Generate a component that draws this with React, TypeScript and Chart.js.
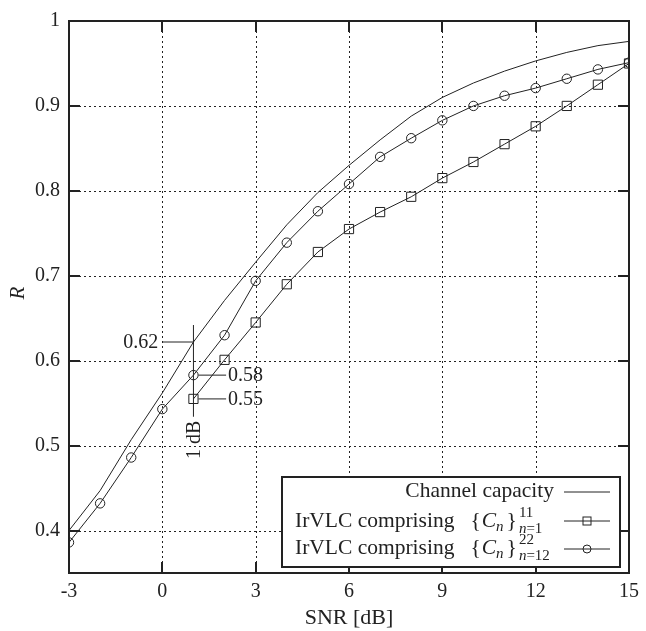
import React, { useEffect, useRef } from 'react';
import Chart from 'chart.js/auto';

// ---- data ----
const SNR = [-3, -2, -1, 0, 1, 2, 3, 4, 5, 6, 7, 8, 9, 10, 11, 12, 13, 14, 15];
const CAPACITY = [0.400, 0.447, 0.507, 0.562, 0.622, 0.671, 0.716, 0.760, 0.798, 0.830, 0.860, 0.888, 0.910, 0.927, 0.941, 0.953, 0.963, 0.971, 0.976];
const SNR_11 = [1, 2, 3, 4, 5, 6, 7, 8, 9, 10, 11, 12, 13, 14, 15];
const IRVLC_11 = [0.555, 0.601, 0.645, 0.690, 0.728, 0.755, 0.775, 0.793, 0.815, 0.834, 0.855, 0.876, 0.900, 0.925, 0.950];
const IRVLC_22 = [0.386, 0.432, 0.486, 0.543, 0.583, 0.630, 0.694, 0.739, 0.776, 0.808, 0.840, 0.862, 0.883, 0.900, 0.912, 0.921, 0.932, 0.943, 0.951];
const X_TICKS = [-3, 0, 3, 6, 9, 12, 15];
const Y_TICKS = [0.4, 0.5, 0.6, 0.7, 0.8, 0.9, 1];
const X_TITLE = 'SNR [dB]';
const Y_TITLE = 'R';
const LEGEND_LABELS = ['Channel capacity', 'IrVLC comprising'];
const SET_SIZES = ['11', '22'];
const SET_RANGES = ['n=1', 'n=12'];
// annotation at SNR = 1 dB
const ANNOT_SNR = 1;
const ANNOT_LABELS = ['0.62', '0.58', '0.55'];
const ANNOT_VALUES = [0.622, 0.583, 0.555];
const ANNOT_VSPAN = [0.642, 0.534];
const ANNOT_FROM_SNR = 0;
const ANNOT_TO_SNR = 2.05;
const ANNOT_TEXT = '1 dB';

const FONT = "'Liberation Serif', 'Times New Roman', serif";
const INK = '#222';

function line(ctx: CanvasRenderingContext2D, x1: number, y1: number, x2: number, y2: number) {
  ctx.beginPath();
  ctx.moveTo(x1, y1);
  ctx.lineTo(x2, y2);
  ctx.stroke();
}

const deco = {
  id: 'deco',
  beforeDatasetsDraw(chart: any) {
    const { ctx, chartArea: a, scales } = chart;
    const x = scales.x, y = scales.y;
    ctx.save();
    ctx.strokeStyle = INK;
    ctx.lineWidth = 1;
    ctx.setLineDash([2, 3]);
    X_TICKS.forEach((v) => {
      if (v <= x.min || v >= x.max) return;
      const px = Math.round(x.getPixelForValue(v)) + 0.5;
      line(ctx, px, a.top, px, a.bottom);
    });
    Y_TICKS.forEach((v) => {
      if (v <= y.min || v >= y.max) return;
      const py = Math.round(y.getPixelForValue(v)) + 0.5;
      line(ctx, a.left, py, a.right, py);
    });
    ctx.restore();
  },
  afterDraw(chart: any) {
    const { ctx, chartArea: a, scales } = chart;
    const x = scales.x, y = scales.y;
    ctx.save();
    ctx.strokeStyle = INK;
    ctx.fillStyle = INK;

    // frame + inward ticks
    ctx.lineWidth = 2;
    ctx.strokeRect(a.left, a.top, a.right - a.left, a.bottom - a.top);
    const TL = 11;
    X_TICKS.forEach((v) => {
      if (v <= x.min || v >= x.max) return;
      const px = Math.round(x.getPixelForValue(v));
      line(ctx, px, a.bottom, px, a.bottom - TL);
      line(ctx, px, a.top, px, a.top + TL);
    });
    Y_TICKS.forEach((v) => {
      if (v <= y.min || v >= y.max) return;
      const py = Math.round(y.getPixelForValue(v));
      line(ctx, a.left, py, a.left + TL, py);
      line(ctx, a.right, py, a.right - TL, py);
    });

    // axis titles
    ctx.font = `22px ${FONT}`;
    ctx.textAlign = 'center';
    ctx.textBaseline = 'middle';
    ctx.fillText(X_TITLE, (a.left + a.right) / 2, a.bottom + 45);
    ctx.save();
    ctx.translate(18, (a.top + a.bottom) / 2 - 4);
    ctx.rotate(-Math.PI / 2);
    ctx.font = `italic 21px ${FONT}`;
    ctx.fillText(Y_TITLE, 0, 0);
    ctx.restore();

    // annotations
    ctx.lineWidth = 1;
    const ax = x.getPixelForValue(ANNOT_SNR);
    line(ctx, ax, y.getPixelForValue(ANNOT_VSPAN[0]), ax, y.getPixelForValue(ANNOT_VSPAN[1]));
    const y0 = y.getPixelForValue(ANNOT_VALUES[0]);
    line(ctx, x.getPixelForValue(ANNOT_FROM_SNR), y0, ax, y0);
    ctx.font = `20px ${FONT}`;
    ctx.textAlign = 'right';
    ctx.fillText(ANNOT_LABELS[0], x.getPixelForValue(ANNOT_FROM_SNR) - 4, y0 + 1);
    ctx.textAlign = 'left';
    const xe = x.getPixelForValue(ANNOT_TO_SNR);
    [1, 2].forEach((i) => {
      const yy = y.getPixelForValue(ANNOT_VALUES[i]);
      line(ctx, ax + 5, yy, xe, yy);
      ctx.fillText(ANNOT_LABELS[i], xe + 2, yy + 1);
    });
    ctx.save();
    ctx.translate(ax + 1, y.getPixelForValue(ANNOT_VSPAN[1]) + 23);
    ctx.rotate(-Math.PI / 2);
    ctx.textAlign = 'center';
    ctx.fillText(ANNOT_TEXT, 0, 0);
    ctx.restore();

    // legend
    const R = a.right - 9, B = a.bottom - 6;
    const L = R - 338, T = B - 90;
    ctx.fillStyle = '#fff';
    ctx.fillRect(L, T, R - L, B - T);
    ctx.lineWidth = 2;
    ctx.strokeStyle = INK;
    ctx.strokeRect(L, T, R - L, B - T);
    ctx.fillStyle = INK;
    ctx.lineWidth = 1;
    const rows = [T + 15, T + 44, T + 72];
    const bases = [T + 20, T + 50, T + 77];
    const sx1 = R - 56, sx2 = R - 10, mx = R - 33;
    rows.forEach((ry, i) => {
      line(ctx, sx1, ry, sx2, ry);
      if (i === 1) ctx.strokeRect(mx - 4, ry - 4, 8, 8);
      if (i === 2) {
        ctx.beginPath();
        ctx.arc(mx, ry, 4, 0, Math.PI * 2);
        ctx.stroke();
      }
    });
    ctx.textBaseline = 'alphabetic';
    ctx.textAlign = 'right';
    ctx.font = `21.5px ${FONT}`;
    ctx.fillText(LEGEND_LABELS[0], R - 66, bases[0]);
    ctx.textAlign = 'left';
    [1, 2].forEach((i) => {
      const base = bases[i];
      let cx = L + 13;
      ctx.font = `21.5px ${FONT}`;
      ctx.fillText(LEGEND_LABELS[1], cx, base);
      cx += ctx.measureText(LEGEND_LABELS[1]).width + 16;
      ctx.fillText('{', cx, base);
      cx += ctx.measureText('{').width + 1;
      ctx.font = `italic 21.5px ${FONT}`;
      ctx.fillText('C', cx, base);
      cx += ctx.measureText('C').width;
      ctx.font = `italic 15px ${FONT}`;
      ctx.fillText('n', cx, base + 4);
      cx += ctx.measureText('n').width + 3;
      ctx.font = `21.5px ${FONT}`;
      ctx.fillText('}', cx, base);
      cx += ctx.measureText('}').width + 2;
      ctx.font = `15px ${FONT}`;
      ctx.fillText(SET_SIZES[i - 1], cx, base - 10);
      const rng = SET_RANGES[i - 1];
      ctx.font = `italic 15px ${FONT}`;
      ctx.fillText(rng[0], cx, base + 6);
      const nw = ctx.measureText(rng[0]).width;
      ctx.font = `15px ${FONT}`;
      ctx.fillText(rng.slice(1), cx + nw, base + 6);
    });
    ctx.restore();
  },
};

export default function App() {
  const ref = useRef<HTMLCanvasElement>(null);
  useEffect(() => {
    if (!ref.current) return;
    const common = { borderColor: INK, borderWidth: 1, pointBorderColor: INK, pointBackgroundColor: 'rgba(0,0,0,0)', pointBorderWidth: 1, tension: 0 };
    const chart = new Chart(ref.current, {
      type: 'line',
      data: {
        datasets: [
          { ...common, label: LEGEND_LABELS[0], data: SNR.map((s, i) => ({ x: s, y: CAPACITY[i] })), pointRadius: 0 },
          { ...common, label: LEGEND_LABELS[1] + ' 11', data: SNR_11.map((s, i) => ({ x: s, y: IRVLC_11[i] })), pointStyle: 'rect', pointRadius: 6.5 },
          { ...common, label: LEGEND_LABELS[1] + ' 22', data: SNR.map((s, i) => ({ x: s, y: IRVLC_22[i] })), pointStyle: 'circle', pointRadius: 4.7 },
        ],
      },
      options: {
        responsive: false,
        animation: false,
        devicePixelRatio: 1,
        layout: { padding: { top: 12, right: 14, left: 0, bottom: 0 } },
        plugins: { legend: { display: false }, tooltip: { enabled: false } },
        scales: {
          x: {
            type: 'linear',
            min: -3,
            max: 15,
            afterBuildTicks: (s: any) => { s.ticks = X_TICKS.map((v) => ({ value: v })); },
            afterFit: (s: any) => { s.height = 58; },
            grid: { display: false, drawTicks: false },
            border: { display: false },
            ticks: { color: INK, font: { family: FONT, size: 20 }, padding: 7, maxRotation: 0, callback: (v: any) => String(v) },
          },
          y: {
            type: 'linear',
            min: 0.35,
            max: 1,
            afterBuildTicks: (s: any) => { s.ticks = Y_TICKS.map((v) => ({ value: v })); },
            afterFit: (s: any) => { s.width = 69; },
            grid: { display: false, drawTicks: false },
            border: { display: false },
            ticks: { color: INK, font: { family: FONT, size: 20 }, padding: 9, callback: (v: any) => (v === 1 ? '1' : Number(v).toFixed(1)) },
          },
        },
      },
      plugins: [deco],
    } as any);
    return () => chart.destroy();
  }, []);
  return (
    <div style={{ position: 'absolute', left: 0, top: 0, width: 646, height: 631, background: '#fff' }}>
      <canvas ref={ref} width={646} height={631} />
    </div>
  );
}
